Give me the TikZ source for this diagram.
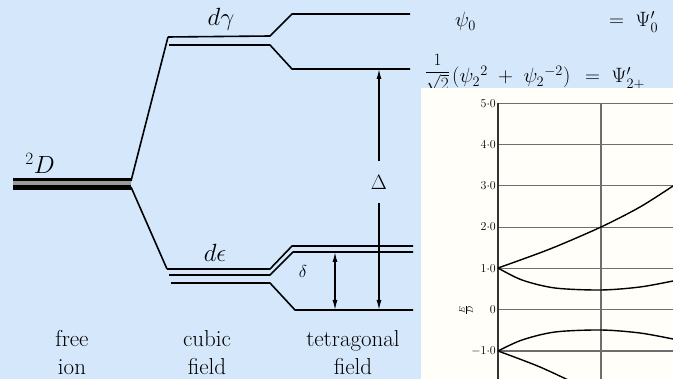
\documentclass[tikz,border=0pt]{standalone}
\usepackage{xcolor}
\usepackage{tikz}
\usetikzlibrary{arrows.meta}
\definecolor{levelSky}{HTML}{D5E8FB}
\definecolor{levelPaper}{HTML}{FFFEF8}
\definecolor{levelGrid}{HTML}{6E6E6E}
\definecolor{levelBand}{HTML}{9A9A9A}

\begin{document}
\begin{tikzpicture}[
  x=1pt,y=-1pt,
  level/.style={line width=1.6pt,line join=round},
  both/.style={line width=1.3pt,{Latex[length=10pt,width=5pt]}-{Latex[length=10pt,width=5pt]}},
  caption/.style={align=center,font=\fontsize{23}{28}\selectfont},
  term/.style={font=\fontsize{21}{24}\selectfont,anchor=base west,inner sep=0pt},
  grid/.style={line width=1.1pt,color=levelGrid},
  curve/.style={line width=1.4pt},
  tick/.style={anchor=east,font=\fontsize{13}{15}\selectfont,inner sep=1pt}
]
\fill[levelSky] (0,0) rectangle (673,379);
\useasboundingbox (0,0) rectangle (673,379);
\clip (0,0) rectangle (673,379);

% free ion
\fill[black] (13,178) rectangle (131,190);
\fill[levelBand] (13,181.5) rectangle (131,185.5);
\coordinate (ion) at (131,183);
\node[font=\fontsize{23}{26}\selectfont,inner sep=0pt] (dlabel) at (40,163) {$^2D$};

% cubic field
\coordinate (gam) at (168,37);
\coordinate (eps) at (167,269);
\draw[level] (131,181) -- (gam);
\draw[level] (131,187) -- (eps);
\draw[level] (gam) -- (270,36) -- (292,14) -- (410,14);
\draw[level] (169,45) -- (270,45) -- (292,69) -- (410,69);
\draw[level] (eps) -- (270,269) -- (292,246) -- (413,246);
\draw[level] (169,275) -- (270,275) -- (293,252) -- (413,252);
\draw[level] (171,283) -- (270,283) -- (295,310) -- (413,310);
\node[font=\fontsize{24}{26}\selectfont] (gamlabel) at (221,19) {$d\gamma$};
\node[font=\fontsize{23}{26}\selectfont] (epslabel) at (215,253) {$d\epsilon$};

% tetragonal field splittings
\coordinate (upT) at (379,69);
\coordinate (upB) at (379,310);
\coordinate (lowT) at (335,252);
\coordinate (lowB) at (335,310);
\draw[both] (upT) -- node[pos=0.47,fill=levelSky,minimum height=42pt,inner sep=0pt,font=\fontsize{21}{24}\selectfont] (bigD) {$\Delta$} (upB);
\draw[both] (lowT) -- (lowB);
\node[font=\fontsize{19}{22}\selectfont] (smallD) at (303,272) {$\delta$};

\node[caption] (free) at (72,353) {free\\ion};
\node[caption] (cubic) at (207,353) {cubic\\field};
\node[caption] (tetra) at (353,353) {tetragonal\\field};

% wave functions
\node[term] (psi0) at (455,27) {$\psi_0$};
\node[term] (Psi0) at (609,27) {$=\;\Psi'_0$};
\node[term,font=\fontsize{18}{20}\selectfont] (frac) at (425,77) {$\displaystyle\frac{1}{\sqrt{2}}$};
\node[term] (comb) at (452,83) {$(\psi_2{}^2\;+\;\psi_2{}^{-2})$};
\node[term] (Psi2) at (585,83) {$=\;\Psi'_{2+}$};

% energy graph
\fill[levelPaper] (421,88) rectangle (673,379);
\foreach \v/\lab in {0/{-1{\cdot}0},1/0,2/{1{\cdot}0},3/{2{\cdot}0},4/{3{\cdot}0},5/{4{\cdot}0},6/{5{\cdot}0}} {
  \draw[grid] (498,351-41.3*\v) -- (673,351-41.3*\v);
  \node[tick] (t\v) at (497,351-41.3*\v) {$\lab$};
}
\draw[grid,color=black!80] (498,103) -- (498,379);
\draw[grid] (601,103) -- (601,379);
\node[rotate=90,font=\fontsize{11}{13}\selectfont,inner sep=0pt] (axlabel) at (466,310) {$\frac{E}{D}$};

\draw[curve] plot[smooth] coordinates {(498,268) (550,249) (601,227) (640,207) (673,186)};
\draw[curve] plot[smooth] coordinates {(498,268) (522,280) (555,288) (601,290) (640,287) (673,281)};
\draw[curve] plot[smooth] coordinates {(498,351) (522,340) (555,332) (601,330) (640,333) (673,339)};
\draw[curve] plot[smooth] coordinates {(498,351) (540,367) (585,388)};
\end{tikzpicture}
\end{document}
